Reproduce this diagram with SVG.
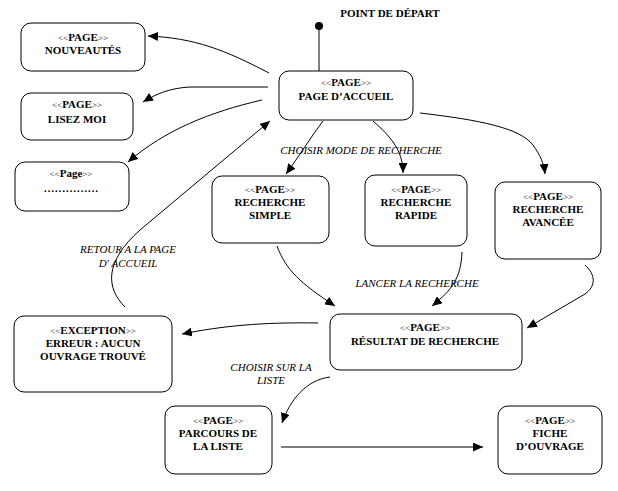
<svg xmlns="http://www.w3.org/2000/svg" width="618" height="491" viewBox="0 0 618 491">
<defs>
<style>
.box{fill:#fff;stroke:#000;stroke-width:1}
.nt{font-size:11px;font-weight:bold;text-anchor:middle;fill:#000}
.st{font-weight:normal;font-size:9px}
.lbl{font-size:11px;font-style:italic;fill:#000;text-anchor:middle}
.c{fill:none;stroke:#000;stroke-width:1}
</style>
<marker id="ah" viewBox="0 0 10 9" refX="10" refY="4.5" markerWidth="10" markerHeight="9" markerUnits="userSpaceOnUse" orient="auto">
<path d="M0,0 L10,4.5 L0,9 z" fill="#000"/>
</marker>
</defs>
<rect width="618" height="491" fill="#fff"/>
<g font-family="Liberation Serif, Times New Roman, serif">

<g id="start">
<text class="nt" x="390" y="17">POINT DE  DÉPART</text>
<circle cx="319" cy="26" r="4" fill="#000"/>
</g>

<g id="connectors">
<path class="c" d="M319,30 L319,71"/>
<path class="c" marker-end="url(#ah)" d="M269,73 C225,50 195,38 148,36"/>
<path class="c" marker-end="url(#ah)" d="M268,87 L190,87 C170,88 156,94 143,102"/>
<path class="c" marker-end="url(#ah)" d="M262,100 C210,112 165,130 128,162"/>
<path class="c" marker-end="url(#ah)" d="M125,307 C106,288 104,262 140,230 L270,121"/>
<path class="c" marker-end="url(#ah)" d="M323,121 C310,138 300,155 286,174"/>
<path class="c" marker-end="url(#ah)" d="M373,121 C390,136 403,150 403,173"/>
<path class="c" marker-end="url(#ah)" d="M420,113 C480,120 520,128 533,145 C540,155 544,163 545,174"/>
<path class="c" marker-end="url(#ah)" d="M277,246 C286,270 300,283 335,306"/>
<path class="c" marker-end="url(#ah)" d="M462,252 C461,278 452,290 432,306"/>
<path class="c" marker-end="url(#ah)" d="M585,265 C596,275 596,286 585,294 L527,328"/>
<path class="c" marker-end="url(#ah)" d="M318,323 C262,322 222,326 182,334"/>
<path class="c" marker-end="url(#ah)" d="M330,377 C306,380 290,400 282,423"/>
<path class="c" marker-end="url(#ah)" d="M281,447 L483,447"/>
<text class="lbl" x="361" y="154">CHOISIR MODE DE  RECHERCHE</text>
<text class="lbl" x="128" y="253">RETOUR A LA PAGE</text>
<text class="lbl" x="128" y="267">D' ACCUEIL</text>
<text class="lbl" x="417" y="287">LANCER LA  RECHERCHE</text>
<text class="lbl" x="271" y="371">CHOISIR SUR LA</text>
<text class="lbl" x="271" y="384">LISTE</text>
</g>

<g id="nouveautes">
<rect class="box" x="21" y="23" width="124" height="48" rx="10"/>
<text class="nt" x="83" y="41"><tspan class="st">&lt;&lt;</tspan>PAGE<tspan class="st">&gt;&gt;</tspan></text>
<text class="nt" x="83" y="54">NOUVEAUTÉS</text>
</g>
<g id="lisez-moi">
<rect class="box" x="21" y="93" width="112" height="47" rx="10"/>
<text class="nt" x="77" y="108"><tspan class="st">&lt;&lt;</tspan>PAGE<tspan class="st">&gt;&gt;</tspan></text>
<text class="nt" x="77" y="123">LISEZ MOI</text>
</g>
<g id="page-autre">
<rect class="box" x="15" y="162" width="114" height="49" rx="10"/>
<text class="nt" x="71" y="177"><tspan class="st">&lt;&lt;</tspan>Page<tspan class="st">&gt;&gt;</tspan></text>
<text class="nt" x="71" y="192">……………</text>
</g>
<g id="accueil">
<rect class="box" x="279" y="71" width="134" height="49" rx="10"/>
<text class="nt" x="346" y="86"><tspan class="st">&lt;&lt;</tspan>PAGE<tspan class="st">&gt;&gt;</tspan></text>
<text class="nt" x="346" y="100">PAGE D’ACCUEIL</text>
</g>
<g id="recherche-simple">
<rect class="box" x="212" y="176" width="117" height="67" rx="10"/>
<text class="nt" x="270" y="193"><tspan class="st">&lt;&lt;</tspan>PAGE<tspan class="st">&gt;&gt;</tspan></text>
<text class="nt" x="270" y="206">RECHERCHE</text>
<text class="nt" x="270" y="219">SIMPLE</text>
</g>
<g id="recherche-rapide">
<rect class="box" x="365" y="175" width="102" height="71" rx="10"/>
<text class="nt" x="416" y="193"><tspan class="st">&lt;&lt;</tspan>PAGE<tspan class="st">&gt;&gt;</tspan></text>
<text class="nt" x="416" y="206">RECHERCHE</text>
<text class="nt" x="416" y="219">RAPIDE</text>
</g>
<g id="recherche-avancee">
<rect class="box" x="495" y="182" width="106" height="77" rx="10"/>
<text class="nt" x="548" y="200"><tspan class="st">&lt;&lt;</tspan>PAGE<tspan class="st">&gt;&gt;</tspan></text>
<text class="nt" x="548" y="213">RECHERCHE</text>
<text class="nt" x="548" y="226">AVANCÉE</text>
</g>
<g id="exception">
<rect class="box" x="14" y="316" width="158" height="76" rx="10"/>
<text class="nt" x="93" y="334"><tspan class="st">&lt;&lt;</tspan>EXCEPTION<tspan class="st">&gt;&gt;</tspan></text>
<text class="nt" x="93" y="347">ERREUR : AUCUN</text>
<text class="nt" x="93" y="360">OUVRAGE TROUVÉ</text>
</g>
<g id="resultat">
<rect class="box" x="330" y="314" width="192" height="56" rx="10"/>
<text class="nt" x="425" y="331"><tspan class="st">&lt;&lt;</tspan>PAGE<tspan class="st">&gt;&gt;</tspan></text>
<text class="nt" x="425" y="345">RÉSULTAT DE RECHERCHE</text>
</g>
<g id="parcours">
<rect class="box" x="165" y="406" width="107" height="68" rx="10"/>
<text class="nt" x="218" y="424"><tspan class="st">&lt;&lt;</tspan>PAGE<tspan class="st">&gt;&gt;</tspan></text>
<text class="nt" x="218" y="437">PARCOURS DE</text>
<text class="nt" x="218" y="450">LA LISTE</text>
</g>
<g id="fiche">
<rect class="box" x="498" y="406" width="104" height="68" rx="10"/>
<text class="nt" x="550" y="424"><tspan class="st">&lt;&lt;</tspan>PAGE<tspan class="st">&gt;&gt;</tspan></text>
<text class="nt" x="550" y="437">FICHE</text>
<text class="nt" x="550" y="450">D’OUVRAGE</text>
</g>
</g>
</svg>
